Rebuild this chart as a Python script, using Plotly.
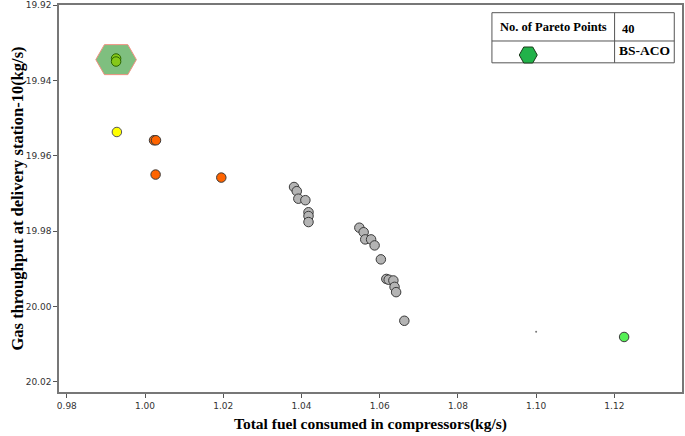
import plotly.graph_objects as go

# ---------------- data ----------------
x_ticks = [0.98, 1.00, 1.02, 1.04, 1.06, 1.08, 1.10, 1.12]
y_ticks = [19.92, 19.94, 19.96, 19.98, 20.00, 20.02]

hex_x = [0.9926]
hex_y = [19.9345]

green_x = [0.9926, 0.9926]
green_y = [19.9342, 19.9350]

yellow_x = [0.9928]
yellow_y = [19.9537]

orange_x = [1.0023, 1.0028, 1.0027, 1.0195]
orange_y = [19.9559, 19.9559, 19.9650, 19.9658]

grey_x = [1.0381, 1.0388, 1.0392, 1.0410, 1.0418, 1.0418, 1.0418,
          1.0548, 1.0559, 1.0563, 1.0578, 1.0587, 1.0603,
          1.0617, 1.0623, 1.0635, 1.0638, 1.0642, 1.0663]
grey_y = [19.9683, 19.9694, 19.9714, 19.9718, 19.9750, 19.9760, 19.9776,
          19.9791, 19.9803, 19.9822, 19.9822, 19.9838, 19.9875,
          19.9927, 19.9929, 19.9931, 19.9948, 19.9962, 20.0038]

lime_x = [1.1225]
lime_y = [20.0081]

speck_x = [1.1000]
speck_y = [20.0067]

legend_count = "40"
legend_name = "BS-ACO"
legend_header = "No. of Pareto Points"

x_title = "Total fuel consumed in compressors(kg/s)"
y_title = "Gas throughput at delivery station-10(kg/s)"

# ---------------- figure ----------------
fig = go.Figure()

def pts(x, y, fill, edge, size=9.5, lw=1):
    fig.add_trace(go.Scatter(
        x=x, y=y, mode="markers", showlegend=False, hoverinfo="skip",
        marker=dict(symbol="circle", size=size, color=fill,
                    line=dict(color=edge, width=lw))))

pts(grey_x, grey_y, "#b4b4b4", "#3a3a3a")
pts(orange_x, orange_y, "#ff6400", "#3a3a3a")
pts(yellow_x, yellow_y, "#ffff00", "#555555")
pts(green_x, green_y, "#86c81a", "#2a6400")
pts(lime_x, lime_y, "#55f055", "#3a3a3a")
pts(speck_x, speck_y, "#777777", "#777777", size=2, lw=0)

# highlighted hexagon around BS-ACO points (anchored at data position)
fig.add_shape(type="path", layer="below",
              xref="x", yref="y", xsizemode="pixel", ysizemode="pixel",
              xanchor=hex_x[0], yanchor=hex_y[0],
              path="M -20.3 0 L -11.7 15 L 11.7 15 L 20.3 0 L 11.7 -15 L -11.7 -15 Z",
              fillcolor="rgba(0,128,0,0.5)", line=dict(color="#f09080", width=1))

# legend table
lx0, lx1, ly0, ly1 = 0.6949, 0.9876, 0.8506, 0.9801
ymid, xdiv = 0.9070, 0.8918
line_style = dict(color="#555555", width=1)
fig.add_shape(type="rect", xref="paper", yref="paper", x0=lx0, x1=lx1, y0=ly0, y1=ly1,
              line=line_style, fillcolor="white")
fig.add_shape(type="line", xref="paper", yref="paper", x0=lx0, x1=lx1, y0=ymid, y1=ymid,
              line=line_style)
fig.add_shape(type="line", xref="paper", yref="paper", x0=xdiv, x1=xdiv, y0=ly0, y1=ly1,
              line=line_style)
fig.add_shape(type="path", xref="paper", yref="paper", xsizemode="pixel", ysizemode="pixel",
              xanchor=0.7532, yanchor=0.8708,
              path="M -9 0 L -4.5 8 L 4.5 8 L 9 0 L 4.5 -8 L -4.5 -8 Z",
              fillcolor="#22b24a", line=dict(color="#1a3a1a", width=1))

serif = "Liberation Serif"
lfont = dict(family=serif, size=12.5, color="black")
fig.add_annotation(xref="paper", yref="paper", x=(lx0 + xdiv) / 2, y=(ymid + ly1) / 2,
                   xanchor="center", yanchor="middle",
                   text="<b>" + legend_header + "</b>", showarrow=False, font=lfont)
fig.add_annotation(xref="paper", yref="paper", x=xdiv + 0.009, y=(ymid + ly1) / 2 - 0.006,
                   xanchor="left", yanchor="middle",
                   text="<b>" + legend_count + "</b>", showarrow=False, font=lfont)
fig.add_annotation(xref="paper", yref="paper", x=(xdiv + lx1) / 2, y=(ly0 + ymid) / 2 + 0.003,
                   xanchor="center", yanchor="middle",
                   text="<b>" + legend_name + "</b>", showarrow=False,
                   font=dict(family=serif, size=13.5, color="black"))

# axis titles
fig.add_annotation(xref="paper", yref="paper", x=0.5, y=0, yshift=-32,
                   xanchor="center", yanchor="middle",
                   text="<b>" + x_title + "</b>", showarrow=False,
                   font=dict(family=serif, size=15.5, color="black"))
fig.add_annotation(xref="paper", yref="paper", x=0, y=0.5, xshift=-42,
                   xanchor="center", yanchor="middle",
                   textangle=-90, text="<b>" + y_title + "</b>", showarrow=False,
                   font=dict(family=serif, size=16.5, color="black"))

axis_common = dict(showgrid=False, zeroline=False, showline=True, mirror=True,
                   linecolor="#777777", linewidth=1.5, ticks="outside", ticklen=4,
                   tickcolor="#555555", tickwidth=1, tickformat=".2f",
                   tickfont=dict(family="DejaVu Sans", size=9, color="#333333"))

fig.update_xaxes(range=[0.978, 1.1373], tickvals=x_ticks, **axis_common)
fig.update_yaxes(range=[20.0227, 19.92], tickvals=y_ticks, **axis_common)

fig.update_layout(width=685, height=436,
                  margin=dict(l=59, r=3, t=5, b=44, autoexpand=False),
                  plot_bgcolor="white", paper_bgcolor="white", showlegend=False)

fig.write_html("out.html", config={"displayModeBar": False},
               post_script="document.body.style.margin='0';document.body.style.overflow='hidden';")
